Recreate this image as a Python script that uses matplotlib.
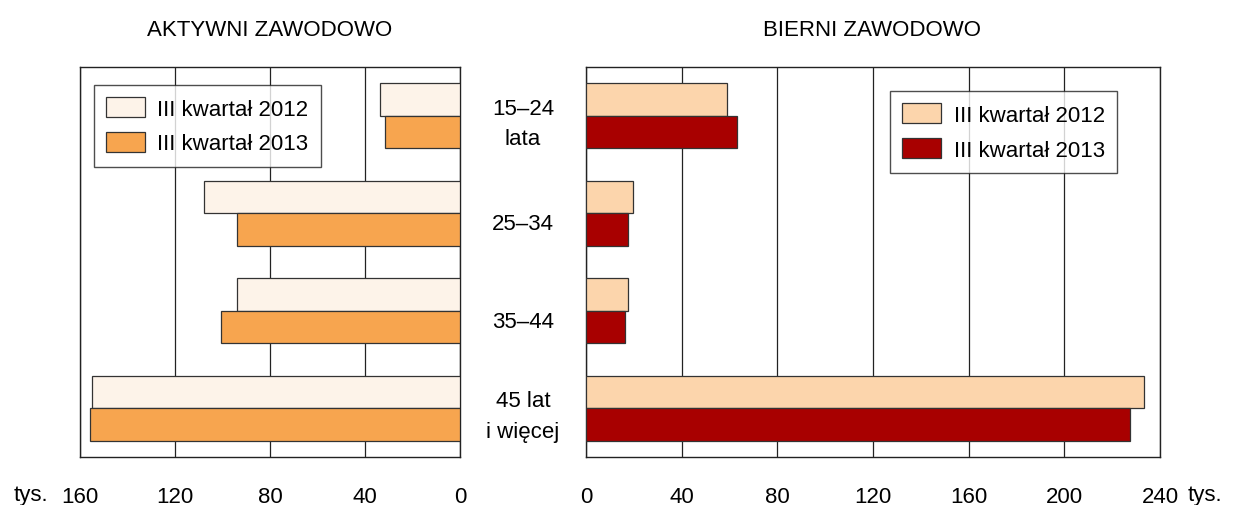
import matplotlib.pyplot as plt
import numpy as np

plt.rcParams['font.family'] = ['Liberation Sans', 'DejaVu Sans']

groups = ['15–24\nlata', '25–34', '35–44', '45 lat\ni więcej']
series = ['III kwartał 2012', 'III kwartał 2013']
aktywni_2012 = [33.5, 108, 94, 155]
aktywni_2013 = [31.5, 94, 100.5, 156]
bierni_2012 = [59, 19.5, 17.5, 233.5]
bierni_2013 = [63, 17.5, 16.5, 227.5]
left_ticks = [160, 120, 80, 40, 0]
right_ticks = [0, 40, 80, 120, 160, 200, 240]

fs = 16
fig = plt.figure(figsize=(12.36, 5.06), dpi=100)
axL = fig.add_axes([80 / 1236, 48 / 506, 380 / 1236, 390 / 506])
axR = fig.add_axes([586 / 1236, 48 / 506, 574 / 1236, 390 / 506])

y = np.arange(len(groups))
h = 0.335

def draw(ax, v12, v13, c12, c13, xmax, ticks, invert):
    ax.barh(y - h / 2, v12, height=h, color=c12, edgecolor='#333333', lw=0.9, label=series[0], zorder=3)
    ax.barh(y + h / 2, v13, height=h, color=c13, edgecolor='#333333', lw=0.9, label=series[1], zorder=3)
    ax.set_ylim(3.5, -0.5)
    if invert:
        ax.set_xlim(xmax, 0)
    else:
        ax.set_xlim(0, xmax)
    ax.set_xticks(ticks)
    ax.set_xticklabels([str(t) for t in ticks], fontsize=fs)
    ax.tick_params(axis='x', length=0, pad=21)
    ax.set_yticks([])
    ax.grid(axis='x', color='#222222', lw=0.9, zorder=0)
    for s in ax.spines.values():
        s.set_color('#222222')
        s.set_linewidth(1.0)

draw(axL, aktywni_2012, aktywni_2013, '#FDF3E9', '#F7A54F', 160, left_ticks, True)
draw(axR, bierni_2012, bierni_2013, '#FCD5AC', '#A80000', 240, right_ticks, False)

leg_kw = dict(loc='upper left', fontsize=fs, frameon=True, fancybox=False, edgecolor='#222222',
              handlelength=1.75, handleheight=1.0, borderpad=0.55, labelspacing=0.55,
              handletextpad=0.55, borderaxespad=0)
legL = axL.legend(bbox_to_anchor=(0.037, 0.954), **leg_kw)
legL.get_frame().set_linewidth(1.0)
legR = axR.legend(bbox_to_anchor=(0.53, 0.938), **leg_kw)
legR.get_frame().set_linewidth(1.0)

# category labels between panels
for i, g in enumerate(groups):
    off = 0.08 if '\n' in g else 0.11
    yy = axL.transData.transform((0, i + off))[1]
    fig.text(523 / 1236, yy / fig.dpi / 5.06, g, ha='center', va='center', fontsize=fs, linespacing=1.6)

fig.text(270 / 1236, 1 - 30 / 506, 'AKTYWNI ZAWODOWO', ha='center', va='center', fontsize=fs)
fig.text(872 / 1236, 1 - 30 / 506, 'BIERNI ZAWODOWO', ha='center', va='center', fontsize=fs)
fig.text(31 / 1236, 1 - 496 / 506, 'tys.', ha='center', va='center', fontsize=fs)
fig.text(1205 / 1236, 1 - 496 / 506, 'tys.', ha='center', va='center', fontsize=fs)

fig.savefig('out.png', dpi=100)
